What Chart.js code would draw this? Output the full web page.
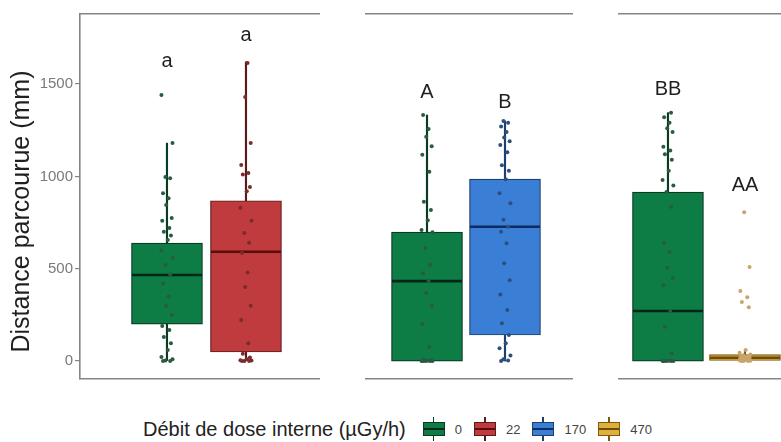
<!DOCTYPE html>
<html>
<head>
<meta charset="utf-8">
<script src="https://cdn.jsdelivr.net/npm/chart.js@4.4.1/dist/chart.umd.min.js"></script>
<style>
    body { margin: 0; background: #fff; width: 781px; height: 442px; position: relative; overflow: hidden;
           font-family: "Liberation Sans", Arial, sans-serif; }
    canvas { position: absolute; top: 0; }
    #legend { position: absolute; left: 143px; top: 416px; height: 26px; display: flex; align-items: center; }
    #legend .ttl { font-size: 20px; color: #222; margin-right: 17px; }
    #legend .key { position: relative; width: 22px; height: 24px; margin-right: 10px; }
    #legend .wh { position: absolute; left: 10px; top: 0; width: 1.5px; height: 24px; }
    #legend .bx { position: absolute; left: 0; top: 5px; width: 20px; height: 12px; border: 1px solid; }
    #legend .bx::after { content: ""; position: absolute; left: 0; right: 0; top: 5px; height: 2px; background: currentColor; }
    #legend .lab { font-size: 13px; color: #444; margin-right: 12px; }
</style>
</head>
<body>
<canvas id="panel1" width="320" height="400" style="left:0px"></canvas>
<canvas id="panel2" width="208" height="400" style="left:365px"></canvas>
<canvas id="panel3" width="163" height="400" style="left:618px"></canvas>
<div id="legend"></div>
<script>
// Internal dose rates (µGy/h) and their colours.
const doses = [ "0", "22", "170", "470" ];
const boxFill = [ "#0e7c45", "#c03b3e", "#3a7fd5", "#e1b03c" ];
const boxLine = [ "#0a3a22", "#5e1a1a", "#1d3f6e", "#7d5a12" ];
const medianColor = [ "#04261a", "#5a0d0d", "#0d2c66", "#6b4c0c" ];
const pointColor = [ "#2a5a42", "#7a2c2c", "#2c4f7c", "#c9a46c" ];

const yTicks = [ 0, 500, 1000, 1500 ];

// Each box: [lower whisker, Q1, median, Q3, upper whisker] in mm.
// Panel 1: control vs 22 µGy/h.
const p1Doses = [ 0, 1 ];
const p1Stats = [ [ 0, 200, 466, 639, 1180 ], [ 0, 49, 592, 868, 1620 ] ];
const p1Letters = [ "a", "a" ];
const p1LetterAt = [ 1620, 1765 ];
const p1Dist0 = [ 0, 0, 3, 10, 22, 60, 97, 130, 168, 190, 250, 300, 350, 420, 470, 520, 560, 600,
                  655, 680, 700, 720, 760, 774, 845, 882, 909, 990, 996, 1180, 1440 ];
const p1Dist22 = [ 0, 0, 0, 3, 5, 10, 20, 40, 97, 222, 300, 401, 480, 585, 640, 693, 760, 830,
                   920, 942, 1010, 1018, 1061, 1180, 1430, 1614 ];

// Panel 2: control vs 170 µGy/h.
const p2Doses = [ 0, 2 ];
const p2Stats = [ [ 0, 0, 433, 698, 1332 ], [ 0, 141, 727, 985, 1300 ] ];
const p2Letters = [ "A", "B" ];
const p2LetterAt = [ 1456, 1402 ];
const p2Dist0 = [ 0, 0, 0, 0, 0, 2, 5, 10, 76, 200, 300, 368, 433, 476, 520, 612, 698, 710, 763,
                  818, 862, 1025, 1117, 1163, 1215, 1256, 1332 ];
const p2Dist170 = [ 0, 3, 10, 30, 70, 97, 141, 205, 276, 360, 438, 530, 638, 700, 727, 765, 855,
                    909, 985, 1030, 1060, 1130, 1170, 1190, 1210, 1240, 1270, 1290, 1300 ];

// Panel 3: control vs 470 µGy/h.
const p3Doses = [ 0, 3 ];
const p3Stats = [ [ 0, 0, 271, 915, 1345 ], [ 0, 3, 18, 35, 60 ] ];
const p3Letters = [ "BB", "AA" ];
const p3LetterAt = [ 1472, 953 ];
const p3Dist0 = [ 0, 0, 0, 0, 0, 2, 42, 186, 271, 410, 450, 505, 590, 639, 835, 915, 950, 980,
                  1030, 1090, 1120, 1140, 1160, 1240, 1260, 1290, 1320, 1345 ];
const p3Dist470 = [ 0, 0, 0, 2, 4, 6, 8, 10, 12, 15, 18, 20, 22, 25, 28, 32, 35, 45, 60,
                    292, 320, 346, 379, 509, 806 ];

// Fixed horizontal spread of the jittered points, in group units.
const jitter = [ -0.05, 0.04, -0.02, 0.07, -0.07, 0.01, 0.05, -0.04, 0.03, -0.06, 0.06, -0.01, 0.02 ];

const FONT = "'Liberation Sans', Arial, sans-serif";
const lineGrey = "#858585";

// Draws the significance letters above each box and, on the first panel, the y title.
const annotate = {
    id: "annotate",
    afterDatasetsDraw( chart, args, opts ) {
        const ctx = chart.ctx;
        const x = chart.scales.x, y = chart.scales.y;
        ctx.save();
        ctx.fillStyle = "#1f1f1f";
        ctx.font = "20px " + FONT;
        ctx.textAlign = "center";
        ctx.textBaseline = "middle";
        opts.letters.forEach( function( t, i ) {
            ctx.fillText( t, x.getPixelForValue( i + 1 ), y.getPixelForValue( opts.heights[ i ] ) );
        });
        if ( opts.yTitle ) {
            const area = chart.chartArea;
            ctx.translate( 22, ( area.top + area.bottom ) / 2 + 15 );
            ctx.rotate( -Math.PI / 2 );
            ctx.font = "25px " + FONT;
            ctx.fillText( opts.yTitle, 0, 0 );
        }
        ctx.restore();
    }
};

function makePanel( canvasId, doseIdx, stats, dists, letters, letterAt, xMin, xMax, withAxis ) {
    const datasets = [
        // Whiskers.
        { type: "bar", xAxisID: "x", grouped: false, order: 4, barThickness: 1.5,
          data: stats.map( ( s, i ) => ({ x: i + 1, y: [ s[ 0 ], s[ 4 ] ] }) ),
          backgroundColor: doseIdx.map( d => boxLine[ d ] ) },
        // Boxes.
        { type: "bar", xAxisID: "x", grouped: false, order: 3, barThickness: 71,
          borderWidth: 1.2, borderSkipped: false,
          data: stats.map( ( s, i ) => ({ x: i + 1, y: [ s[ 1 ], s[ 3 ] ] }) ),
          backgroundColor: doseIdx.map( d => boxFill[ d ] ),
          borderColor: doseIdx.map( d => boxLine[ d ] ) },
        // Medians.
        { type: "scatter", xAxisID: "x", order: 2, pointStyle: "line", pointRadius: 35, pointBorderWidth: 2.6,
          data: stats.map( ( s, i ) => ({ x: i + 1, y: s[ 2 ] }) ),
          pointBorderColor: doseIdx.map( d => medianColor[ d ] ) }
    ];
    // Jittered individual points.
    dists.forEach( function( values, i ) {
        datasets.push({
            type: "scatter", xAxisID: "x", order: 1, pointRadius: 2, pointBorderWidth: 0,
            pointBackgroundColor: pointColor[ doseIdx[ i ] ],
            data: values.map( ( v, k ) => ({ x: i + 1 + jitter[ k % jitter.length ], y: v }) )
        });
    });

    const edge = { color: lineGrey, width: 1.6 };
    new Chart( document.getElementById( canvasId ), {
        type: "bar",
        data: { datasets: datasets },
        options: {
            responsive: false,
            animation: false,
            devicePixelRatio: 1,
            layout: { autoPadding: false, padding: { top: 14, bottom: 21, left: 0, right: 0 } },
            plugins: {
                legend: { display: false },
                tooltip: { enabled: false },
                annotate: { letters: letters, heights: letterAt, yTitle: withAxis ? "Distance parcourue (mm)" : "" }
            },
            scales: {
                x: { type: "linear", min: xMin, max: xMax, offset: false,
                     ticks: { display: false }, grid: { display: false }, border: edge,
                     afterFit: function( s ) { s.height = 0; } },
                xTop: { type: "linear", axis: "x", position: "top", min: 0, max: 1,
                        ticks: { display: false }, grid: { display: false }, border: edge,
                        afterFit: function( s ) { s.height = 0; } },
                y: { display: withAxis, min: -97, max: 1879,
                     afterBuildTicks: function( s ) { s.ticks = yTicks.map( v => ({ value: v }) ); },
                     ticks: { color: "#7a7a7a", font: { size: 15, family: FONT }, padding: 2,
                              callback: function( v ) { return String( v ); } },
                     grid: { drawOnChartArea: false, tickLength: 5, color: lineGrey, lineWidth: 1.2 },
                     border: edge,
                     afterFit: function( s ) { if ( withAxis ) s.width = 80; } }
            }
        },
        plugins: [ annotate ]
    });
}

makePanel( "panel1", p1Doses, p1Stats, [ p1Dist0, p1Dist22 ], p1Letters, p1LetterAt, -0.101, 2.937, true );
makePanel( "panel2", p2Doses, p2Stats, [ p2Dist0, p2Dist170 ], p2Letters, p2LetterAt, 0.205, 2.872, false );
makePanel( "panel3", p3Doses, p3Stats, [ p3Dist0, p3Dist470 ], p3Letters, p3LetterAt, 0.351, 2.468, false );

// Legend: title then one mini box per dose rate.
const legend = document.getElementById( "legend" );
legend.innerHTML = '<span class="ttl">Débit de dose interne (µGy/h)</span>';
doses.forEach( function( d, i ) {
    const key = document.createElement( "span" );
    key.className = "key";
    key.innerHTML = '<i class="wh" style="background:' + boxLine[ i ] + '"></i>' +
        '<b class="bx" style="background:' + boxFill[ i ] + ';border-color:' + boxLine[ i ] +
        ';color:' + medianColor[ i ] + '"></b>';
    const lab = document.createElement( "span" );
    lab.className = "lab";
    lab.textContent = d;
    legend.appendChild( key );
    legend.appendChild( lab );
});
</script>
</body>
</html>
